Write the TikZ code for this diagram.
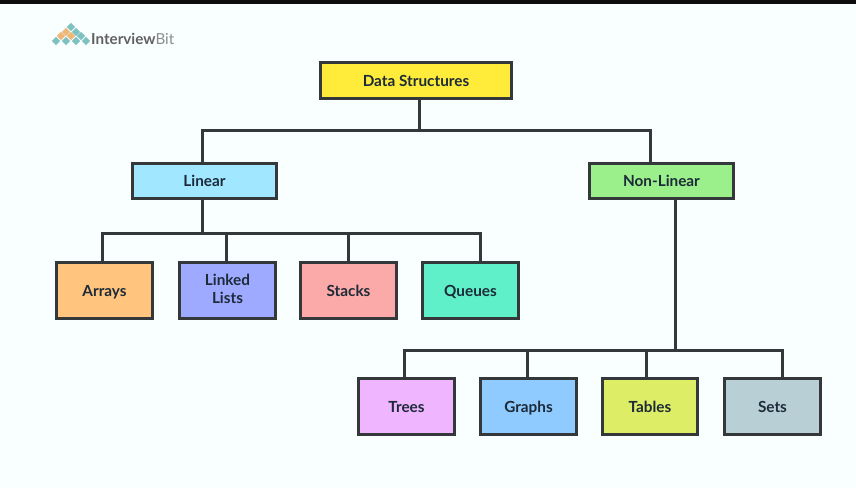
\documentclass[tikz,border=0pt]{standalone}
\usepackage{fontspec}
\setmainfont{Lato}
\begin{document}
\begin{tikzpicture}[x=1pt,y=-1pt,
  box/.style={draw=boxline,line width=2.8pt,minimum width=95.5pt,minimum height=55.5pt,inner sep=0pt,align=center,text=labelink,font=\fontsize{15.3}{17.5}\selectfont\bfseries,execute at begin node={\rule[-3pt]{0pt}{17.5pt}}},
  wide/.style={box,minimum width=143.5pt,minimum height=35.5pt},
  conn/.style={draw=boxline,line width=3pt,line join=miter}]
\definecolor{boxline}{HTML}{34383A}
\definecolor{labelink}{HTML}{1D2A38}
\definecolor{paper}{HTML}{F9FEFF}
\definecolor{logoteal}{HTML}{7FC0C0}
\definecolor{logoorange}{HTML}{EDB877}
\definecolor{cds}{HTML}{FFEC3A}
\definecolor{clin}{HTML}{A0E7FF}
\definecolor{cnon}{HTML}{9BF08C}
\definecolor{carr}{HTML}{FFC57E}
\definecolor{clnk}{HTML}{9DAAFF}
\definecolor{cstk}{HTML}{FBA9A9}
\definecolor{cque}{HTML}{5FEFC9}
\definecolor{ctre}{HTML}{F0B5FF}
\definecolor{cgra}{HTML}{90CBFF}
\definecolor{ctab}{HTML}{DDEE66}
\definecolor{cset}{HTML}{B9CFD6}
\useasboundingbox (0,0) rectangle (856,488);
\fill[paper] (0,0) rectangle (856,488);
\fill[black!95] (0,0) rectangle (856,4);
% logo
\foreach \px/\py/\c in {71/27/logoteal,
  66/32/logoorange,76/32/logoteal,
  61/36/logoorange,71/36/logoorange,81/36/logoteal,
  56/41/logoteal,66/41/logoteal,76/41/logoteal,86/41/logoteal}{
  \fill[\c] (\px-4.2,\py) -- (\px,\py-4.2) -- (\px+4.2,\py) -- (\px,\py+4.2) -- cycle;}
\node[anchor=west,inner sep=0pt,font=\fontsize{15.2}{18}\selectfont\bfseries,text=black!62] (logotext) at (91,38.5) {Interview\textcolor{black!45}{\mdseries Bit}};
% boxes
\node[wide,fill=cds,minimum width=191.5pt] (ds) at (416,80.5) {Data Structures};
\node[wide,fill=clin] (lin) at (204.5,181) {Linear};
\node[wide,fill=cnon] (non) at (661.5,181) {Non-Linear};
\node[box,fill=carr] (arr) at (104.5,290.5) {Arrays};
\node[box,fill=clnk] (lnk) at (227.5,290.5) {Linked\\Lists};
\node[box,fill=cstk] (stk) at (348.5,290.5) {Stacks};
\node[box,fill=cque] (que) at (470.5,290.5) {Queues};
\node[box,fill=ctre] (tre) at (406.5,406.5) {Trees};
\node[box,fill=cgra] (gra) at (528.5,406.5) {Graphs};
\node[box,fill=ctab] (tab) at (650,406.5) {Tables};
\node[box,fill=cset] (set) at (772.5,406.5) {Sets};
% connectors
\coordinate (b0) at (419,130);
\coordinate (s1) at (202,130);
\coordinate (s2) at (650,130);
\draw[conn] (ds.south -| b0) -- (b0);
\draw[conn] (lin.north -| s1) -- (s1) -- (s2) -- (non.north -| s2);
\coordinate (b1) at (202,233);
\coordinate (l1) at (102,233);
\coordinate (l2) at (226,233);
\coordinate (l3) at (348,233);
\coordinate (l4) at (480,233);
\draw[conn] (lin.south -| b1) -- (b1);
\draw[conn] (arr.north -| l1) -- (l1) -- (l4) -- (que.north -| l4);
\draw[conn] (lnk.north -| l2) -- (l2);
\draw[conn] (stk.north -| l3) -- (l3);
\coordinate (b2) at (675.5,350);
\coordinate (r1) at (404,350);
\coordinate (r2) at (527,350);
\coordinate (r3) at (646,350);
\coordinate (r4) at (782,350);
\draw[conn] (non.south -| b2) -- (b2);
\draw[conn] (tre.north -| r1) -- (r1) -- (r4) -- (set.north -| r4);
\draw[conn] (gra.north -| r2) -- (r2);
\draw[conn] (tab.north -| r3) -- (r3);
\end{tikzpicture}
\end{document}
